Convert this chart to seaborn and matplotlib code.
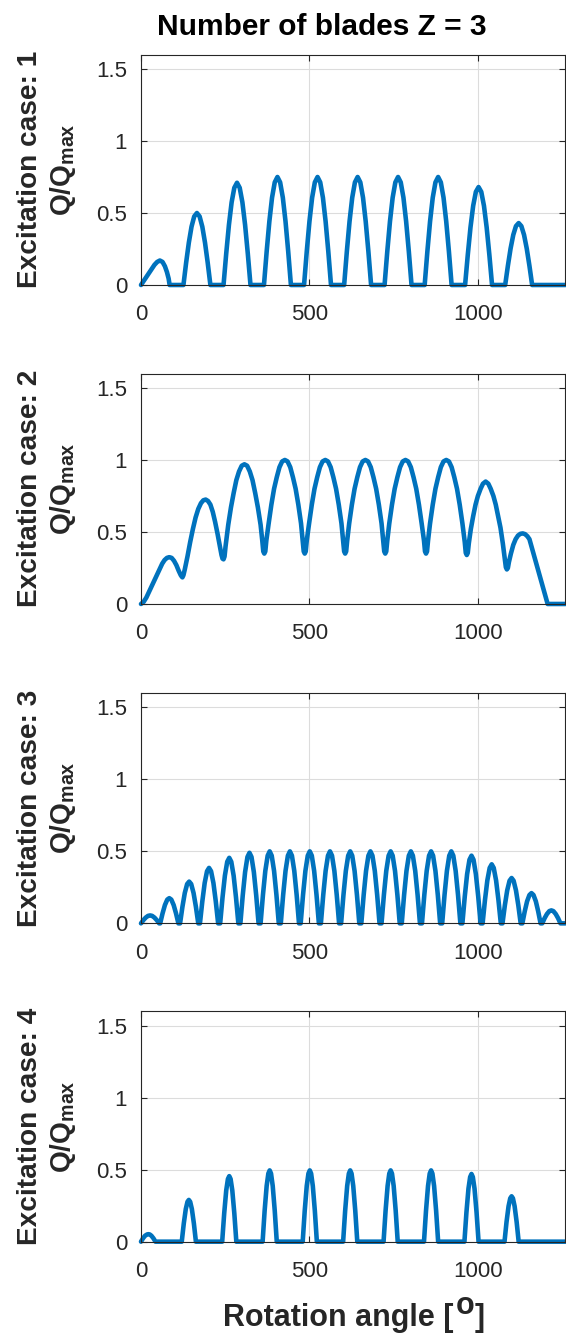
import matplotlib
matplotlib.use("Agg")
import pandas as pd
import matplotlib.pyplot as plt
import seaborn as sns

# Q/Qmax against rotation angle
case_1 = [
    (0, 0), (10, .035), (20, .07), (30, .105), (40, .14), (48, .16), (56, .17), (64, .16), (71, .13), (77, .09), (82, .045), (85, 0),
    (126, 0), (134, .155), (142, .294), (150, .405), (158, .476), (166, .50), (174, .476), (182, .405), (190, .294), (198, .155), (206, 0),
    (245, 0), (253, .219), (261, .417), (269, .574), (277, .675), (285, .71), (293, .675), (301, .574), (309, .417), (317, .219), (325, 0),
    (365, 0), (373, .232), (381, .441), (389, .607), (397, .713), (405, .75), (413, .713), (421, .607), (429, .441), (437, .232), (445, 0),
    (484, 0), (492, .232), (500, .441), (508, .607), (516, .713), (524, .75), (532, .713), (540, .607), (548, .441), (556, .232), (564, 0),
    (603, 0), (611, .232), (619, .441), (627, .607), (635, .713), (643, .75), (651, .713), (659, .607), (667, .441), (675, .232), (683, 0),
    (723, 0), (731, .232), (739, .441), (747, .607), (755, .713), (763, .75), (771, .713), (779, .607), (787, .441), (795, .232), (803, 0),
    (842, 0), (850, .232), (858, .441), (866, .607), (874, .713), (882, .75), (890, .713), (898, .607), (906, .441), (914, .232), (922, 0),
    (962, 0), (970, .210), (978, .400), (986, .550), (994, .647), (1002, .68), (1010, .647), (1018, .550), (1026, .400), (1034, .210), (1042, 0),
    (1081, 0), (1089, .133), (1097, .253), (1105, .348), (1113, .409), (1121, .43), (1129, .409), (1137, .348), (1145, .253), (1153, .133), (1161, 0),
    (1260, 0),
]

case_2 = [
    (0, 0), (8, .015), (16, .045), (25, .09), (35, .14), (45, .19), (55, .24), (63, .28), (70, .305), (77, .32), (84, .325),
    (91, .32), (98, .30), (105, .27), (112, .23), (118, .20), (121, .19), (123, .185),
    (126, .20), (130, .24), (138, .33), (146, .43), (154, .52), (162, .60), (170, .66), (178, .70), (185, .72), (192, .725),
    (199, .715), (206, .69), (213, .64), (220, .57), (227, .49), (234, .40), (239, .34), (242, .315), (245, .31),
    (248, .33), (251, .40), (259, .55), (267, .67), (275, .77), (283, .86), (291, .92), (299, .96), (307, .97),
    (315, .96), (323, .92), (331, .86), (339, .77), (347, .67), (355, .55), (360, .44), (363, .365), (366, .35),
    (369, .365), (372, .44), (379, .56), (387, .69), (395, .80), (403, .88), (411, .95), (419, .99), (427, 1.0),
    (435, .99), (443, .95), (451, .88), (459, .80), (467, .69), (475, .56), (480, .44), (483, .365), (486, .35),
    (489, .365), (492, .44), (499, .56), (507, .69), (515, .80), (523, .88), (531, .95), (539, .99), (547, 1.0),
    (555, .99), (563, .95), (571, .88), (579, .80), (587, .69), (595, .56), (600, .44), (603, .365), (606, .35),
    (609, .365), (612, .44), (618, .56), (626, .69), (634, .80), (642, .88), (650, .95), (658, .99), (666, 1.0),
    (674, .99), (682, .95), (690, .88), (698, .80), (706, .69), (714, .56), (719, .44), (722, .365), (725, .35),
    (728, .365), (731, .44), (737, .56), (745, .69), (753, .80), (761, .88), (769, .95), (777, .99), (785, 1.0),
    (793, .99), (801, .95), (809, .88), (817, .80), (825, .69), (833, .56), (840, .44), (843, .365), (846, .35),
    (849, .365), (852, .44), (858, .56), (866, .69), (874, .80), (882, .88), (890, .95), (898, .99), (906, 1.0),
    (914, .99), (922, .95), (930, .88), (938, .80), (946, .69), (954, .56), (961, .43), (964, .355), (967, .34),
    (970, .355), (973, .42), (979, .52), (986, .61), (993, .69), (1000, .75), (1008, .80), (1015, .835), (1023, .85),
    (1031, .835), (1038, .80), (1046, .75), (1053, .69), (1060, .61), (1067, .53), (1074, .42), (1080, .31), (1083, .255), (1086, .24),
    (1089, .25), (1092, .29), (1098, .35), (1105, .41), (1112, .45), (1119, .475), (1126, .487), (1133, .49),
    (1140, .485), (1147, .47), (1153, .45), (1207, 0),
    (1260, 0),
]

case_3 = [
    (0, 0), (7, .022), (14, .040), (21, .052), (27, .055), (33, .052), (40, .040), (47, .022), (54, 0),
    (57, 0), (64, .069), (71, .127), (78, .165), (84, .175), (90, .165), (97, .127), (104, .069), (111, 0),
    (116, 0), (123, .115), (130, .211), (137, .273), (143, .29), (149, .273), (156, .211), (163, .115), (170, 0),
    (175, 0), (182, .152), (189, .280), (196, .362), (202, .385), (208, .362), (215, .280), (222, .152), (229, 0),
    (235, 0), (242, .180), (249, .331), (256, .428), (262, .455), (268, .428), (275, .331), (282, .180), (289, 0),
    (295, 0), (302, .194), (309, .356), (316, .461), (322, .49), (328, .461), (335, .356), (342, .194), (349, 0),
    (355, 0), (362, .198), (369, .364), (376, .47), (382, .50), (388, .47), (395, .364), (402, .198), (409, 0),
    (415, 0), (422, .198), (429, .364), (436, .47), (442, .50), (448, .47), (455, .364), (462, .198), (469, 0),
    (474, 0), (481, .198), (488, .364), (495, .47), (501, .50), (507, .47), (514, .364), (521, .198), (528, 0),
    (534, 0), (541, .198), (548, .364), (555, .47), (561, .50), (567, .47), (574, .364), (581, .198), (588, 0),
    (594, 0), (601, .198), (608, .364), (615, .47), (621, .50), (627, .47), (634, .364), (641, .198), (648, 0),
    (654, 0), (661, .198), (668, .364), (675, .47), (681, .50), (687, .47), (694, .364), (701, .198), (708, 0),
    (714, 0), (721, .198), (728, .364), (735, .47), (741, .50), (747, .47), (754, .364), (761, .198), (768, 0),
    (774, 0), (781, .198), (788, .364), (795, .47), (801, .50), (807, .47), (814, .364), (821, .198), (828, 0),
    (834, 0), (841, .198), (848, .364), (855, .47), (861, .50), (867, .47), (874, .364), (881, .198), (888, 0),
    (894, 0), (901, .198), (908, .364), (915, .47), (921, .50), (927, .47), (934, .364), (941, .198), (948, 0),
    (954, 0), (961, .186), (968, .342), (975, .442), (981, .47), (987, .442), (994, .342), (1001, .186), (1008, 0),
    (1014, 0), (1021, .162), (1028, .298), (1035, .385), (1041, .41), (1047, .385), (1054, .298), (1061, .162), (1068, 0),
    (1073, 0), (1080, .125), (1087, .229), (1094, .296), (1100, .315), (1106, .296), (1113, .229), (1120, .125), (1127, 0),
    (1132, 0), (1139, .083), (1146, .153), (1153, .197), (1159, .21), (1165, .197), (1172, .153), (1179, .083), (1186, 0),
    (1191, 0), (1198, .036), (1205, .065), (1212, .085), (1218, .09), (1224, .085), (1231, .065), (1238, .036), (1245, 0),
    (1260, 0),
]

case_4 = [
    (0, 0), (6, .023), (12, .041), (18, .050), (22, .052), (26, .050), (31, .041), (37, .023), (43, 0),
    (121, 0), (127, .126), (133, .227), (138, .277), (142, .29), (146, .277), (151, .227), (157, .126), (163, 0),
    (241, 0), (247, .197), (253, .356), (258, .435), (262, .455), (266, .435), (271, .356), (277, .197), (283, 0),
    (361, 0), (367, .215), (373, .387), (378, .473), (382, .495), (386, .473), (391, .387), (397, .215), (403, 0),
    (480, 0), (486, .215), (492, .387), (497, .473), (501, .495), (505, .473), (510, .387), (516, .215), (522, 0),
    (600, 0), (606, .215), (612, .387), (617, .473), (621, .495), (625, .473), (630, .387), (636, .215), (642, 0),
    (720, 0), (726, .215), (732, .387), (737, .473), (741, .495), (745, .473), (750, .387), (756, .215), (762, 0),
    (840, 0), (846, .215), (852, .387), (857, .473), (861, .495), (865, .473), (870, .387), (876, .215), (882, 0),
    (960, 0), (966, .204), (972, .368), (977, .449), (981, .47), (985, .449), (990, .368), (996, .204), (1002, 0),
    (1079, 0), (1085, .137), (1091, .246), (1096, .301), (1100, .315), (1104, .301), (1109, .246), (1115, .137), (1121, 0),
    (1260, 0),
]

cases = [case_1, case_2, case_3, case_4]
case_names = ["Excitation case: 1", "Excitation case: 2", "Excitation case: 3", "Excitation case: 4"]
x_ticks = [0, 500, 1000]
y_ticks = [0, 0.5, 1, 1.5]
y_tick_labels = ["0", "0.5", "1", "1.5"]

sns.set_theme(style="whitegrid")
plt.rcParams["font.family"] = ["Liberation Sans", "DejaVu Sans"]
plt.rcParams["mathtext.fontset"] = "custom"
plt.rcParams["mathtext.rm"] = "Liberation Sans:bold"
plt.rcParams["mathtext.it"] = "Liberation Sans:bold"
plt.rcParams["mathtext.bf"] = "Liberation Sans:bold"
plt.rcParams["mathtext.default"] = "rm"

blue = "#0072BD"
dark = "#262626"
W, H = 566, 1338

fig = plt.figure(figsize=(W / 100, H / 100), dpi=100)
bottoms = [0.7870, 0.5486, 0.3099, 0.0720]

for i in range(len(cases)):
    ax = fig.add_axes([0.2491, bottoms[i], 0.7500, 0.1722])
    df = pd.DataFrame(cases[i], columns=["angle", "q"])
    sns.lineplot(data=df, x="angle", y="q", ax=ax, color=blue, lw=3.3,
                 estimator=None, sort=False)
    for ln in ax.lines:
        ln.set_clip_on(False)
        ln.set_solid_joinstyle("round")
        ln.set_solid_capstyle("round")

    ax.set_xlim(0, 1260)
    ax.set_ylim(0, 1.6)
    ax.set_xticks(x_ticks)
    ax.set_yticks(y_ticks)
    ax.set_yticklabels(y_tick_labels)
    ax.set_xlabel("")
    ax.set_ylabel("")
    ax.grid(True, color="#dcdcdc", lw=0.8)
    ax.set_axisbelow(True)
    for sp in ax.spines.values():
        sp.set_visible(True)
        sp.set_color(dark)
        sp.set_linewidth(0.8)
    ax.tick_params(direction="in", length=4, width=0.8, bottom=True, left=True,
                   top=True, right=True, labelsize=16, labelcolor=dark, color=dark)
    ax.tick_params(axis="x", pad=14)
    ax.tick_params(axis="y", pad=10)

    ax.text(-0.220, 0.5, case_names[i] + "\nQ/Q$_{max}$", rotation=90,
            ha="center", va="center", transform=ax.transAxes, fontsize=20.2,
            fontweight="bold", color=dark, linespacing=1.25)

fig.text(322 / W, 1 - 35 / H, "Number of blades Z = 3", ha="center",
         va="baseline", fontsize=21.5, fontweight="bold", color="black")

# x label: "Rotation angle [°]" with a raised o, pieced together and centred
base_y = 1 - 1326 / H
lab_kw = dict(ha="left", va="baseline", fontsize=22, fontweight="bold", color=dark)
t_main = fig.text(0, base_y, "Rotation angle [", **lab_kw)
t_deg = fig.text(0, base_y + 12 / H, "o", **lab_kw)
t_end = fig.text(0, base_y, "]", **lab_kw)
fig.canvas.draw()
rend = fig.canvas.get_renderer()
w_main = t_main.get_window_extent(rend).width
w_deg = t_deg.get_window_extent(rend).width
w_end = t_end.get_window_extent(rend).width
x0 = 353 - (w_main + w_deg + w_end) / 2
t_main.set_x(x0 / W)
t_deg.set_x((x0 + w_main + 2) / W)
t_end.set_x((x0 + w_main + w_deg + 2) / W)

fig.savefig("out.png", dpi=100)
